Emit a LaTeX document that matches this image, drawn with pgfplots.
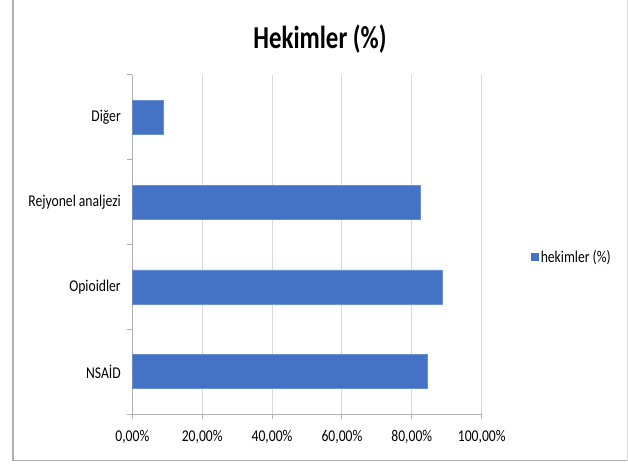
\documentclass[border=0pt]{standalone}
\usepackage{fontspec}
\setmainfont{Carlito}
\newfontfamily\lblfont[FakeStretch=0.83]{Carlito}
\newfontfamily\ttlfont[FakeStretch=0.78]{Carlito}
\usepackage{pgfplots}
\pgfplotsset{compat=1.18}
\definecolor{barblue}{HTML}{4472C4}
\definecolor{baredge}{HTML}{6A90D4}
\definecolor{gridgray}{HTML}{D9D9D9}
\definecolor{framegray}{HTML}{B0B0B0}
\begin{document}
\begin{tikzpicture}
\path[use as bounding box] (0bp,0bp) rectangle (628bp,465bp);
\draw[framegray, line width=1.2bp] (13bp,465bp) -- (13bp,4.3bp) -- (627bp,4.3bp);
\draw[gridgray, line width=0.6bp] (627bp,4.3bp) -- (627bp,465bp);
\node[font=\ttlfont\fontsize{32}{36}\selectfont\bfseries] at (320bp,426bp) {Hekimler (\%)};
\begin{axis}[
  at={(132.3bp,51bp)}, anchor=south west,
  scale only axis, width=349.4bp, height=339bp,
  xmin=0, xmax=100, ymin=-0.5, ymax=3.5,
  axis x line=bottom, axis y line=left,
  axis line style={-, draw=framegray, line width=1bp},
  xtick={0,20,40,60,80,100},
  xticklabels={{0,00\%},{20,00\%},{40,00\%},{60,00\%},{80,00\%},{100,00\%}},
  xticklabel style={yshift=-8bp},
  ytick={-0.5,0.5,1.5,2.5,3.5},
  yticklabels={},
  extra y ticks={0,1,2,3},
  extra y tick labels={NSAİD,Opioidler,Rejyonel analjezi,Diğer},
  extra y tick style={major tick length=0pt, yticklabel style={xshift=-8bp}},
  tick align=outside,
  major tick length=5bp,
  tick style={draw=framegray, line width=1bp},
  xmajorgrids,
  grid style={draw=gridgray, line width=1bp},
  ticklabel style={font=\lblfont\fontsize{16.5}{19}\selectfont},
  /pgf/number format/assume math mode=true,
  legend style={at={(1.141,0.463)}, anchor=west, draw=none, fill=none,
    font=\lblfont\fontsize{16.5}{19}\selectfont, inner xsep=0pt, inner ysep=0pt},
  legend cell align=left,
  legend image code/.code={\fill[barblue] (0bp,-3.5bp) rectangle (7bp,3.5bp);},
]
\addplot[xbar, fill=barblue, draw=baredge, line width=0.6bp, bar width=0.4]
  coordinates {(84.3,0) (88.6,1) (82.3,2) (8.9,3)};
\addlegendentry{hekimler (\%)}
\end{axis}
\end{tikzpicture}
\end{document}
